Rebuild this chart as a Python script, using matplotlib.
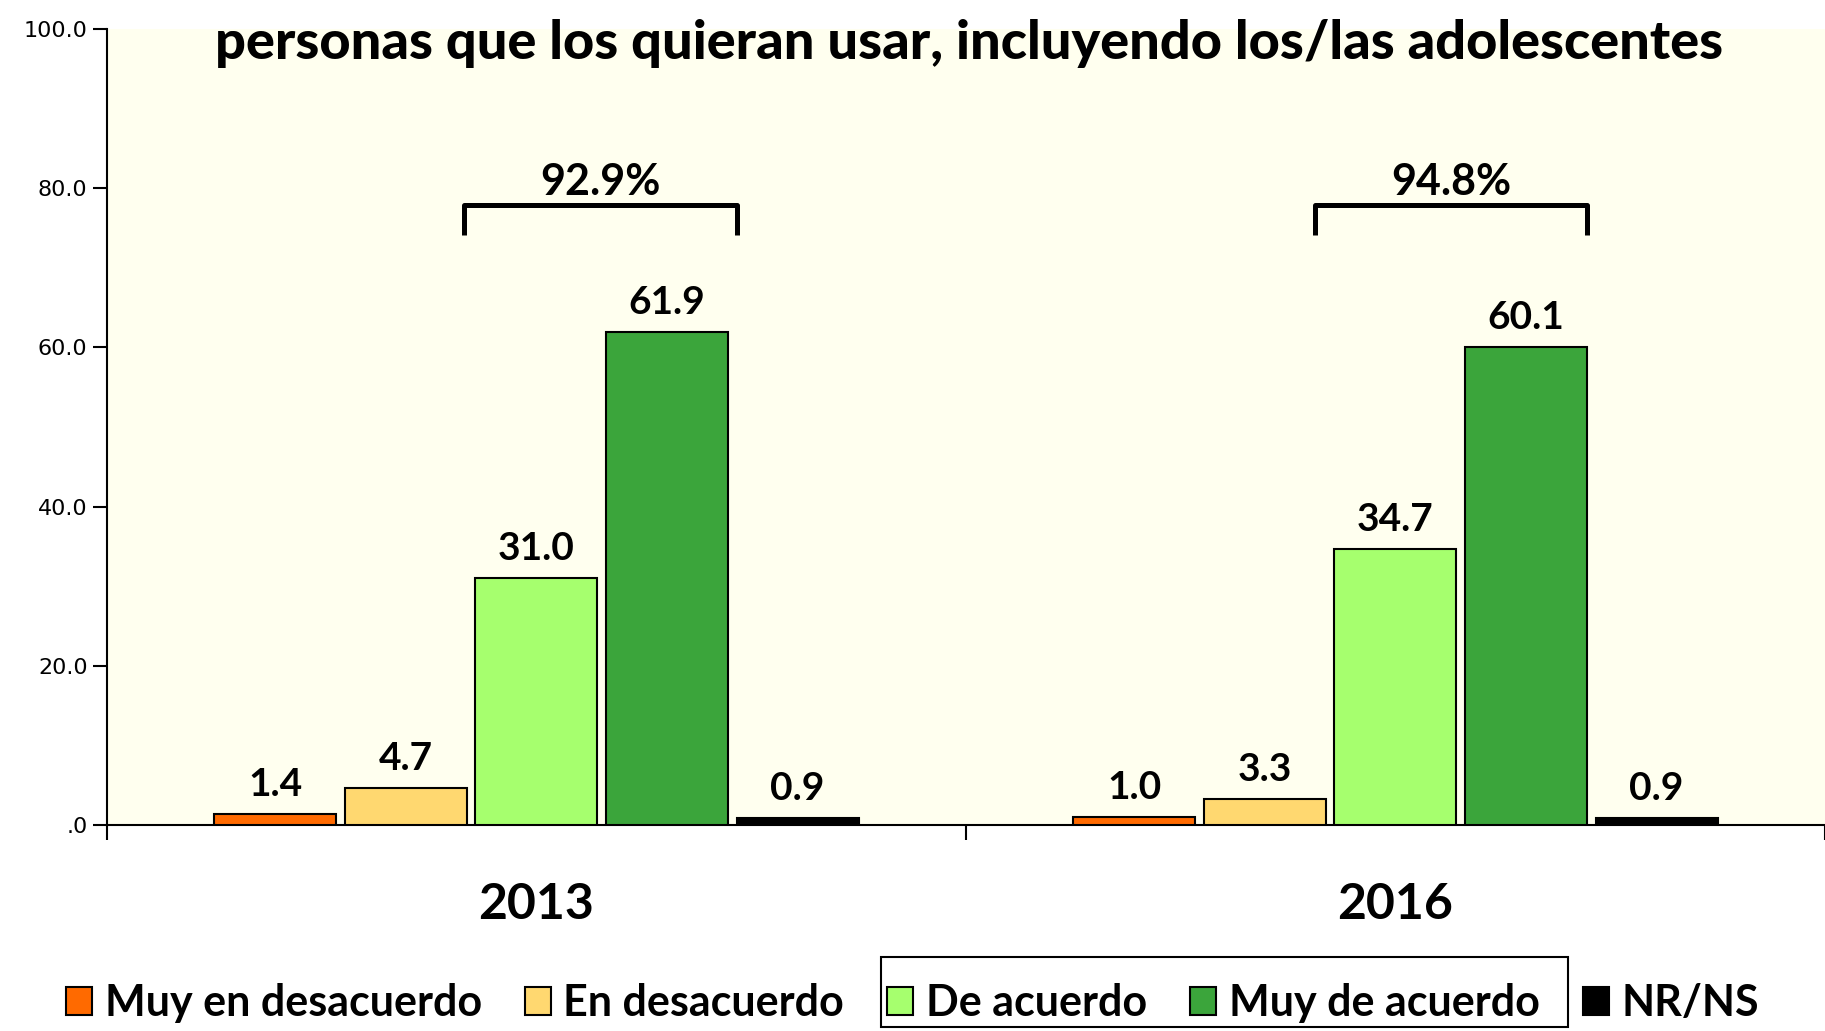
"""
Acuerdo con el uso de anticonceptivos por parte de las personas que los quieran usar
(barras agrupadas 2013 vs 2016)
"""
import numpy as np
import matplotlib
matplotlib.use('Agg')
import matplotlib.pyplot as plt
from matplotlib.patches import Rectangle

# Data
years = ['2013', '2016']
categories = ['Muy en desacuerdo', 'En desacuerdo', 'De acuerdo', 'Muy de acuerdo', 'NR/NS']
values_2013 = [1.4, 4.7, 31.0, 61.9, 0.9]
values_2016 = [1.0, 3.3, 34.7, 60.1, 0.9]
colors = ['#FF6A00', '#FFD870', '#A6FF6E', '#3BA53B', '#000000']
title_line2 = 'personas que los quieran usar, incluyendo los/las adolescentes'
yticks = [0, 20, 40, 60, 80, 100]

plt.rcParams['font.family'] = ['Lato', 'DejaVu Sans']

fig = plt.figure(figsize=(18.25, 10.31), dpi=100)
ax = fig.add_axes([0.0586, 0.1998, 0.9414, 0.7721])
ax.set_facecolor('#FFFFEF')

series = [values_2013, values_2016]
pitch = 0.152
width = 0.142
centers = np.arange(len(years)) + 0.5

bars_by_cat = []
for i, cat in enumerate(categories):
    vals = [s[i] for s in series]
    x = centers + (i - 2) * pitch
    bars = ax.bar(x, vals, width=width, color=colors[i], edgecolor='black',
                  linewidth=1.5, label=cat, zorder=3)
    bars_by_cat.append(bars)
    for xi, v in zip(x, vals):
        ax.annotate(f'{v:.1f}', (xi, v), xytext=(0, 13), textcoords='offset points',
                    ha='center', va='baseline', fontsize=28, fontweight='bold')

# Brackets over "De acuerdo" + "Muy de acuerdo" (hand-drawn in the original)
left_pad = [0.013, 0.023]
right_pad = [0.011, 0.0]
for g, s in enumerate(series):
    total = s[2] + s[3]
    x0 = centers[g] - width / 2 - left_pad[g]
    x1 = centers[g] + pitch + width / 2 + right_pad[g]
    ax.plot([x0, x0, x1, x1], [74.1, 77.9, 77.9, 74.1], color='black', lw=3.6,
            solid_joinstyle='round', solid_capstyle='butt', zorder=4)
    ax.text((x0 + x1) / 2, 79.1, f'{total:.1f}%', ha='center', va='baseline',
            fontsize=31, fontweight='bold')

ax.set_xlim(0, 2)
ax.set_ylim(0, 100)
ax.set_yticks(yticks)
ax.set_yticklabels(['.0' if t == 0 else f'{t:.1f}' for t in yticks],
                   fontsize=16, family='DejaVu Sans')
ax.tick_params(axis='y', length=10, width=1.5, pad=4)

ax.set_xticks([0, 1, 2])
ax.set_xticklabels([])
ax.tick_params(axis='x', which='major', length=11, width=1.5)
ax.set_xticks(centers, minor=True)
ax.set_xticklabels(years, minor=True, fontsize=36, fontweight='bold')
ax.tick_params(axis='x', which='minor', length=0, pad=41)

for side in ['top', 'right']:
    ax.spines[side].set_visible(False)
for side in ['left', 'bottom']:
    ax.spines[side].set_linewidth(1.5)

fig.text(0.531, 0.958, title_line2, ha='center', va='center',
         fontsize=39, fontweight='black')

leg = fig.legend(handles=[b[0] for b in bars_by_cat], labels=categories,
                 loc='center', bbox_to_anchor=(0.5, 0.027), ncol=5, frameon=False,
                 fontsize=31, handlelength=0.6, handleheight=0.6,
                 handletextpad=0.3, columnspacing=1.0, borderpad=0.2)
for t in leg.get_texts():
    t.set_fontweight('bold')

fig.patches.append(Rectangle((0.4827, 0.0039), 0.3764, 0.0679, transform=fig.transFigure,
                             fill=False, edgecolor='black', linewidth=1.5))

plt.savefig('out.png', dpi=100)
print("Saved to out.png")
